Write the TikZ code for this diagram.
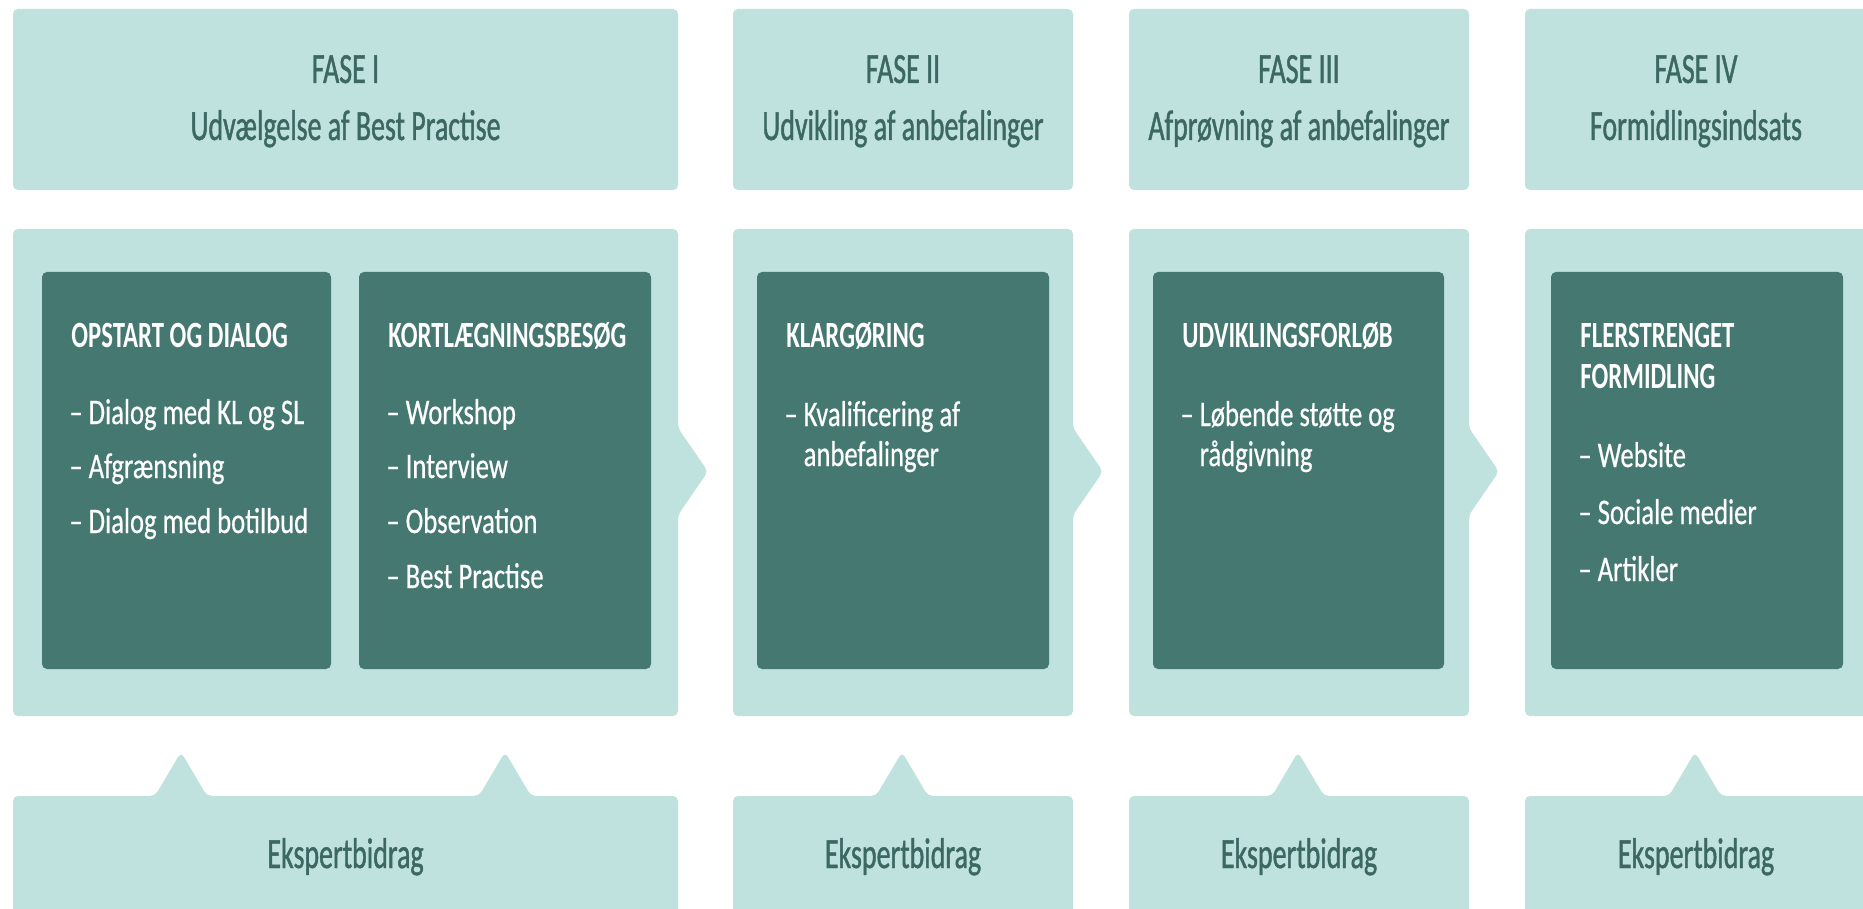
\documentclass[tikz,border=0pt]{standalone}
\usepackage{fontspec}
\setmainfont{Carlito}[FakeStretch=0.74, FakeBold=0.5]
\newfontfamily\labelfont{Carlito}[FakeStretch=0.65, FakeBold=1]
\newfontfamily\headfont{Carlito}[FakeStretch=0.67]

\definecolor{lightteal}{RGB}{191,226,222}
\definecolor{darkteal}{RGB}{69,120,112}
\definecolor{labelteal}{RGB}{60,104,98}

\tikzset{
  panel/.style={fill=lightteal, rounded corners=2.5pt},
  card/.style={fill=darkteal, rounded corners=2.5pt},
  fasetext/.style={anchor=base, inner sep=0pt, text=labelteal, font=\labelfont\fontsize{21.5}{24}\selectfont},
  headtext/.style={anchor=base west, inner sep=0pt, text=white, font=\headfont\bfseries\fontsize{18.5}{20.5}\selectfont},
  itemtext/.style={anchor=base west, inner sep=0pt, text=white, font=\fontsize{18}{19.5}\selectfont},
}

\begin{document}
\begin{tikzpicture}[x=0.5pt, y=-0.5pt]
\clip (0,0) rectangle (1863,909);
\fill[white] (0,0) rectangle (1863,909);

% top row
\fill[panel] (13,9) rectangle (678,190);
\fill[panel] (733,9) rectangle (1073,190);
\fill[panel] (1129,9) rectangle (1469,190);
\fill[panel] (1525,9) rectangle (1885,190);

\node[fasetext] (F1) at (345.5,83) {FASE I};
\node[fasetext] (T1) at (345.5,140) {Udvælgelse af Best Practise};
\node[fasetext] (F2) at (903,83) {FASE II};
\node[fasetext] (T2) at (903,140) {Udvikling af anbefalinger};
\node[fasetext] (F3) at (1299,83) {FASE III};
\node[fasetext] (T3) at (1299,140) {Afprøvning af anbefalinger};
\node[fasetext] (F4) at (1696,83) {FASE IV};
\node[fasetext] (T4) at (1696,140) {Formidlingsindsats};

% middle row
\fill[panel] (13,229) -- (678,229) -- (678,428) -- (708,471.5) -- (678,515) -- (678,716) -- (13,716) -- cycle;
\fill[panel] (733,229) -- (1073,229) -- (1073,428) -- (1103,471.5) -- (1073,515) -- (1073,716) -- (733,716) -- cycle;
\fill[panel] (1129,229) -- (1469,229) -- (1469,428) -- (1499,471.5) -- (1469,515) -- (1469,716) -- (1129,716) -- cycle;
\fill[panel] (1525,229) rectangle (1885,716);

\fill[card] (42,272) rectangle (331,669);
\fill[card] (359,272) rectangle (651,669);
\fill[card] (757,272) rectangle (1049,669);
\fill[card] (1153,272) rectangle (1444,669);
\fill[card] (1551,272) rectangle (1843,669);

\node[headtext] (H1) at (71,347) {OPSTART OG DIALOG};
\node[itemtext] (B1a) at (69,424) {– Dialog med KL og SL};
\node[itemtext] (B1b) at (69,478) {– Afgrænsning};
\node[itemtext] (B1c) at (69,533) {– Dialog med botilbud};

\node[headtext] (H2) at (388,347) {KORTLÆGNINGSBESØG};
\node[itemtext] (B2a) at (386,424) {– Workshop};
\node[itemtext] (B2b) at (386,478) {– Interview};
\node[itemtext] (B2c) at (386,533) {– Observation};
\node[itemtext] (B2d) at (386,588) {– Best Practise};

\node[headtext] (H3) at (786,347) {KLARGØRING};
\node[itemtext] (B3a) at (784,426) {– Kvalificering af};
\node[itemtext] (B3b) at (784,466) {\phantom{– }anbefalinger};

\node[headtext] (H4) at (1182,347) {UDVIKLINGSFORLØB};
\node[itemtext] (B4a) at (1180,426) {– Løbende støtte og};
\node[itemtext] (B4b) at (1180,466) {\phantom{– }rådgivning};

\node[headtext] (H5a) at (1580,347) {FLERSTRENGET};
\node[headtext] (H5b) at (1580,388) {FORMIDLING};
\node[itemtext] (B5a) at (1578,467) {– Website};
\node[itemtext] (B5b) at (1578,524) {– Sociale medier};
\node[itemtext] (B5c) at (1578,581) {– Artikler};

% bottom row
\fill[panel] (13,930) -- (13,796) -- (155,796) -- (181,752) -- (207,796) -- (479,796) -- (505,752) -- (531,796) -- (678,796) -- (678,930) -- cycle;
\fill[panel] (733,930) -- (733,796) -- (876,796) -- (902,752) -- (928,796) -- (1073,796) -- (1073,930) -- cycle;
\fill[panel] (1129,930) -- (1129,796) -- (1272,796) -- (1298,752) -- (1324,796) -- (1469,796) -- (1469,930) -- cycle;
\fill[panel] (1525,930) -- (1525,796) -- (1669,796) -- (1695,752) -- (1721,796) -- (1885,796) -- (1885,930) -- cycle;

\node[fasetext] (E1) at (345.5,868) {Ekspertbidrag};
\node[fasetext] (E2) at (903,868) {Ekspertbidrag};
\node[fasetext] (E3) at (1299,868) {Ekspertbidrag};
\node[fasetext] (E4) at (1696,868) {Ekspertbidrag};
\end{tikzpicture}
\end{document}
